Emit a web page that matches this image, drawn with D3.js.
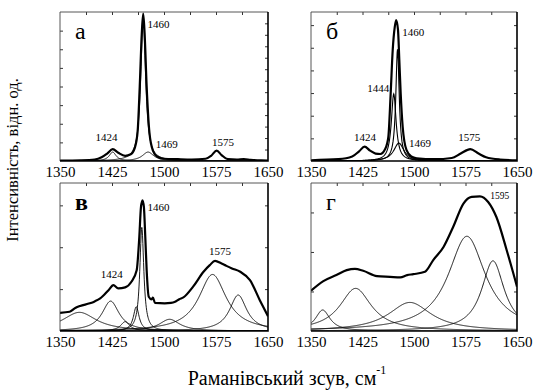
<!DOCTYPE html>
<html>
<head>
<meta charset="utf-8">
<script src="https://cdn.jsdelivr.net/npm/d3@7"></script>
</head>
<body style="margin:0;background:#fff">
<script>
let width = 536, height = 390
const fontName = 'Liberation Serif'

// tick labels and panel letters
const xTicks = [1350, 1425, 1500, 1575, 1650]
const letters = ['а', 'б', 'в', 'г']

const specA = [[1350,0.003],[1380,0.005],[1400,0.01],[1410,0.025],[1418,0.05],[1426,0.08],[1434,0.055],
  [1444,0.034],[1452,0.045],[1458,0.09],[1462,0.2],[1465,0.5],[1468,0.86],[1470,0.99],[1472,0.86],
  [1475,0.5],[1479,0.19],[1484,0.07],[1490,0.03],[1500,0.015],[1520,0.012],[1540,0.01],[1560,0.015],
  [1568,0.035],[1576,0.07],[1583,0.04],[1592,0.012],[1605,0.01],[1615,0.013],[1625,0.008],[1640,0.004],[1650,0.003]]
const specB = [[1350,0.005],[1390,0.012],[1410,0.03],[1420,0.065],[1428,0.096],[1436,0.07],[1444,0.05],
  [1451,0.047],[1458,0.08],[1462.6,0.16],[1466,0.45],[1469,0.745],[1472,0.9],[1474,0.946],[1476.7,0.88],
  [1478.6,0.68],[1480.6,0.454],[1483.5,0.23],[1489,0.074],[1496,0.03],[1504,0.018],[1530,0.012],
  [1555,0.02],[1568,0.05],[1582,0.08],[1594,0.05],[1605,0.025],[1625,0.01],[1650,0.005]]
const specC = [[1350,0.123],[1364,0.13],[1372,0.155],[1379,0.169],[1393,0.187],[1400,0.2],[1408,0.22],
  [1420,0.276],[1427,0.31],[1434,0.288],[1444,0.295],[1453,0.333],[1460.6,0.41],[1464.4,0.636],
  [1466.8,0.838],[1469,0.883],[1471,0.838],[1473,0.636],[1475,0.41],[1478,0.231],[1482,0.214],
  [1484,0.225],[1487,0.19],[1501,0.187],[1510,0.19],[1516,0.198],[1522,0.215],[1528,0.227],[1542,0.3],
  [1557,0.4],[1566,0.445],[1573.6,0.474],[1583,0.456],[1590,0.44],[1598,0.423],[1610,0.4],
  [1624,0.344],[1638,0.21],[1650,0.1]]
const specD = [[1350,0.272],[1368,0.337],[1387,0.378],[1402,0.411],[1414,0.42],[1426,0.407],
  [1446,0.371],[1465,0.366],[1480,0.362],[1490,0.378],[1499,0.384],[1516,0.4],[1528,0.479],
  [1543,0.568],[1557,0.703],[1572,0.861],[1584,0.906],[1596,0.91],[1608,0.872],[1620,0.77],
  [1635,0.546],[1650,0.3]]

// fitted bands [centre, height, half-width]
const bandsA = [[1470,0.96,4.2],[1477,0.06,10],[1426,0.06,6]]
const bandsB = [[1470.5,0.45,4.2],[1476,0.75,3],[1478,0.12,9]]
const bandsC = [[1378,0.126,30],[1423,0.202,15],[1444,0.063,8],[1460,0.164,5],[1468,0.7,3.5],
  [1508,0.079,18],[1570,0.382,24],[1607,0.243,15]]
const bandsD = [[1367,0.142,13],[1415,0.288,28],[1494,0.193,38],[1577,0.64,33],[1615,0.474,20]]

// peak labels [text, shift, intensity]
const labelsA = [['1460',1492,0.893],['1424',1417,0.134],['1469',1504,0.087],['1575',1585,0.103]]
const labelsB = [['1460',1499,0.841],['1444',1448,0.461],['1424',1428.6,0.132],['1469',1508.7,0.092],['1575',1580.5,0.136]]
const labelsC = [['1460',1492,0.811],['1424',1424.6,0.355],['1575',1580.8,0.512]]
const labelsD = [['1595',1625,0.89]]

const panels = [
  {spec: specA, bands: bandsA, labels: labelsA, box: [60, 268, 12, 161], yStep: 0.125, rStep: 0.077, bandW: 0.9},
  {spec: specB, bands: bandsB, labels: labelsB, box: [311, 517, 12, 161], yStep: 0.152, rStep: 0.152, bandW: 1.1},
  {spec: specC, bands: bandsC, labels: labelsC, box: [60, 268, 183, 331], yStep: 0.283, rStep: 0.283, bandW: 0.9},
  {spec: specD, bands: bandsD, labels: labelsD, box: [311, 517, 183, 331], yStep: 0.267, rStep: 0.267, bandW: 0.9}
]

let svg = d3.select('body').append('svg')
  .attr('width', width).attr('height', height)
  .attr('font-family', fontName)
  .style('font-family', `"${fontName}"`)

// every label goes through this so the serif face sticks
const setFont = sel => sel.attr('font-family', fontName).style('font-family', `"${fontName}"`)

let grid = d3.range(1350, 1650.01, 0.5)

panels.forEach((p, i) => {
  let [x0, x1, y0, y1] = p.box
  let x = d3.scaleLinear().domain([1350, 1650]).range([x0, x1])
  let y = d3.scaleLinear().domain([0, 1]).range([y1, y0])
  let g = svg.append('g')

  g.append('clipPath').attr('id', 'clip' + i)
    .append('rect').attr('x', x0).attr('y', y0).attr('width', x1 - x0).attr('height', y1 - y0)

  let line = d3.line().x(d => x(d[0])).y(d => y(d[1]))
  let plot = g.append('g').attr('clip-path', `url(#clip${i})`)

  p.bands.forEach(b => {
    let [c, h, w] = b
    plot.append('path')
      .datum(grid.map(v => [v, h * w * w / ((v - c) * (v - c) + w * w)]))
      .attr('fill', 'none').attr('stroke', '#000').attr('stroke-width', p.bandW)
      .attr('d', line)
  })
  plot.append('path').datum(p.spec)
    .attr('fill', 'none').attr('stroke', '#000').attr('stroke-width', 2.2)
    .attr('stroke-linejoin', 'round')
    .attr('d', line.curve(d3.curveMonotoneX))

  // inward ticks
  g.append('g').attr('transform', `translate(0,${y0})`)
    .call(d3.axisBottom(x).tickValues(d3.range(1387.5, 1650, 37.5)).tickSize(3).tickFormat(''))
    .call(a => a.select('.domain').remove())
  g.append('g').attr('transform', `translate(${x0},0)`)
    .call(d3.axisRight(y).tickValues(d3.range(p.yStep, 0.99, p.yStep)).tickSize(3).tickFormat(''))
    .call(a => a.select('.domain').remove())
  g.append('g').attr('transform', `translate(${x1},0)`)
    .call(d3.axisLeft(y).tickValues(d3.range(p.rStep, 0.99, p.rStep)).tickSize(3).tickFormat(''))
    .call(a => a.select('.domain').remove())
  g.selectAll('.tick line').attr('stroke', '#333')

  // frame
  g.append('path').attr('fill', 'none').attr('stroke', '#444').attr('stroke-width', 0.9)
    .attr('d', `M${x0},${y1}V${y0}H${x1}`)
  g.append('path').attr('fill', 'none').attr('stroke', '#000').attr('stroke-width', 1.6)
    .attr('d', `M${x1},${y0}V${y1}H${x0}`)

  // x tick labels
  g.append('g').attr('transform', `translate(0,${y1})`)
    .call(d3.axisBottom(x).tickValues(xTicks).tickSize(0).tickPadding(5).tickFormat(d3.format('d')))
    .call(a => a.select('.domain').remove())
    .call(setFont)
    .call(a => a.selectAll('text').attr('font-size', 15).attr('fill', '#000').call(setFont))

  g.append('text').attr('x', x0 + 15).attr('y', y0 + 27)
    .attr('font-size', 24).attr('font-weight', i == 2 ? 'bold' : 'normal')
    .call(setFont)
    .text(letters[i])

  g.selectAll('.peak').data(p.labels).join('text')
    .attr('x', d => x(d[1])).attr('y', d => y(d[2]))
    .attr('text-anchor', 'middle').attr('font-size', i == 3 ? 9.5 : 11)
    .call(setFont)
    .text(d => d[0])
})

svg.append('text')
  .attr('transform', 'translate(18,160) rotate(-90)')
  .attr('text-anchor', 'middle').attr('font-size', 16.5)
  .call(setFont)
  .text('Інтенсивність, відн. од.')

let xt = svg.append('text').attr('x', 287).attr('y', 385)
  .attr('text-anchor', 'middle').attr('font-size', 20)
  .call(setFont)
xt.append('tspan').text('Раманівський зсув, см')
xt.append('tspan').attr('font-size', 12).attr('dy', -11).text('-1')
</script>
</body>
</html>
